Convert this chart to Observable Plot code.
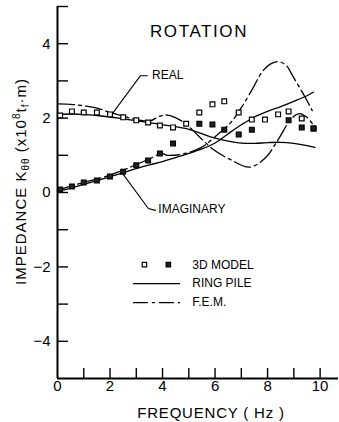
<!DOCTYPE html>
<html>
<head>
<meta charset="utf-8">
<script src="https://cdn.jsdelivr.net/npm/d3@7"></script>
<script src="https://cdn.jsdelivr.net/npm/@observablehq/plot@0.6"></script>
<style>
  html, body { margin: 0; padding: 0; background: #fff; }
  #chart svg { display: block; }
</style>
</head>
<body>
<div id="chart"></div>
<script>
// ---- data ----
// Ring pile (solid) — real part
const ringRealF = [0, 0.5, 1, 1.5, 2, 2.5, 3, 3.5, 4, 4.5, 5, 5.5, 6, 6.5, 7, 7.5, 8, 8.5, 9, 9.5, 9.8];
const ringRealV = [2.1, 2.11, 2.1, 2.07, 2.03, 1.98, 1.93, 1.88, 1.82, 1.77, 1.7, 1.58, 1.46, 1.38, 1.33, 1.32, 1.34, 1.35, 1.32, 1.26, 1.21];
// Ring pile (solid) — imaginary part
const ringImagF = [0, 0.5, 1, 1.5, 2, 2.5, 3, 3.5, 4, 4.5, 5, 5.5, 6, 6.5, 7, 7.5, 8, 8.5, 9, 9.5, 9.75];
const ringImagV = [0.03, 0.12, 0.22, 0.32, 0.42, 0.53, 0.64, 0.74, 0.83, 0.94, 1.05, 1.17, 1.33, 1.58, 1.82, 2.03, 2.18, 2.31, 2.45, 2.6, 2.7];
// F.E.M. (dash-dot) — real part
const femRealF = [0, 0.5, 1, 1.5, 2, 2.5, 3, 3.5, 3.9, 4.2, 4.8, 5.4, 6.0, 6.6, 7.3, 7.9, 8.4, 8.9, 9.2, 9.5, 9.8];
const femRealV = [2.38, 2.37, 2.33, 2.27, 2.15, 2.05, 1.96, 1.92, 2.05, 2.08, 1.89, 1.5, 1.12, 0.88, 0.68, 0.92, 1.42, 1.98, 2.12, 2.02, 1.75];
// F.E.M. (dash-dot) — imaginary part
const femImagF = [0, 0.5, 1, 1.5, 2, 2.5, 3, 3.5, 3.95, 4.2, 4.8, 5.5, 6.1, 6.6, 7.0, 7.4, 7.8, 8.1, 8.4, 8.7, 9.0, 9.4, 9.7];
const femImagV = [0.06, 0.17, 0.27, 0.36, 0.47, 0.6, 0.75, 0.9, 1.05, 1.0, 1.04, 1.22, 1.56, 1.88, 2.28, 2.75, 3.25, 3.45, 3.52, 3.42, 3.08, 2.6, 2.2];
// 3D model — real part (open squares)
const model3dRealF = [0.1, 0.55, 1.0, 1.5, 2.0, 2.5, 3.0, 3.45, 3.9, 4.4, 4.9, 5.4, 5.9, 6.35, 6.9, 7.4, 7.9, 8.4, 8.8, 9.3, 9.75];
const model3dRealV = [2.07, 2.18, 2.15, 2.15, 2.10, 2.02, 1.94, 1.88, 1.80, 1.75, 1.85, 2.15, 2.37, 2.45, 2.15, 1.96, 1.96, 2.10, 2.18, 1.99, 1.72];
// 3D model — imaginary part (filled squares)
const model3dImagF = [0.1, 0.55, 1.0, 1.5, 2.0, 2.5, 3.0, 3.45, 3.9, 4.4, 5.4, 5.9, 6.35, 6.9, 7.4, 8.8, 9.3, 9.75];
const model3dImagV = [0.08, 0.16, 0.27, 0.32, 0.43, 0.56, 0.73, 0.86, 1.05, 1.32, 1.85, 1.83, 1.69, 1.56, 1.69, 1.94, 1.75, 1.72];

// axis ticks
const xTickValues = [1, 2, 3, 4, 5, 6, 7, 8, 9, 10];
const xTickLabels = [0, 2, 4, 6, 8, 10];
const yTickValues = [-4, -3, -2, -1, 0, 1, 2, 3, 4, 5];
const yTickLabels = [-4, -2, 0, 2, 4];

// annotation labels with leader lines
const annotations = [
  {label: "REAL", f: 3.6, v: 3.16},
  {label: "IMAGINARY", f: 3.84, v: -0.46}
];
const leaderReal = [{f: 3.42, v: 3.14}, {f: 3.16, v: 3.14}, {f: 2.09, v: 2.12}];
const leaderImag = [{f: 3.73, v: -0.48}, {f: 3.46, v: -0.43}, {f: 2.51, v: 0.48}];

const zip = (F, V) => F.map((f, i) => ({f, v: V[i]}));
const ringReal = zip(ringRealF, ringRealV);
const ringImag = zip(ringImagF, ringImagV);
const femReal = zip(femRealF, femRealV);
const femImag = zip(femImagF, femImagV);
const m3dReal = zip(model3dRealF, model3dRealV);
const m3dImag = zip(model3dImagF, model3dImagV);

const DASHDOT = "17,4,3,4";
const FONT = "'Liberation Sans', Arial, Helvetica, sans-serif";
// inward tick length: 10px expressed in y units (372px for 10 units)
const X_TICK_LEN = 10 / 37.2;

const chart = Plot.plot({
  width: 339,
  height: 422,
  marginLeft: 57,
  marginRight: 1,
  marginTop: 6,
  marginBottom: 44,
  x: {domain: [0, 10.7], axis: null},
  y: {domain: [-5, 5], axis: null},
  style: {fontFamily: FONT, background: "white", color: "black", overflow: "visible"},
  marks: [
    // axis lines
    Plot.ruleX([0], {y1: -5, y2: 5, stroke: "black", strokeWidth: 2}),
    Plot.ruleY([-5], {x1: 0, x2: 10.7, stroke: "black", strokeWidth: 2}),
    // inward ticks
    Plot.ruleY(yTickValues, {y: d => d, x1: 0, x2: 0, insetRight: -11, stroke: "black", strokeWidth: 1.4}),
    Plot.ruleX(xTickValues, {x: d => d, y1: -5, y2: -5 + X_TICK_LEN, stroke: "black", strokeWidth: 1.4}),
    // tick labels
    Plot.axisX({ticks: xTickLabels, anchor: "bottom", tickSize: 0, tickPadding: 2, fontSize: 15, label: null}),
    Plot.axisY({ticks: yTickLabels, anchor: "left", tickSize: 0, tickPadding: 7, fontSize: 15, label: null}),
    // curves
    Plot.line(ringReal, {x: "f", y: "v", curve: "catmull-rom", stroke: "black", strokeWidth: 1.3}),
    Plot.line(ringImag, {x: "f", y: "v", curve: "catmull-rom", stroke: "black", strokeWidth: 1.3}),
    Plot.line(femReal, {x: "f", y: "v", curve: "catmull-rom", stroke: "black", strokeWidth: 1.3, strokeDasharray: DASHDOT}),
    Plot.line(femImag, {x: "f", y: "v", curve: "catmull-rom", stroke: "black", strokeWidth: 1.3, strokeDasharray: DASHDOT}),
    // 3D model points
    Plot.dot(m3dReal, {x: "f", y: "v", symbol: "square", r: 2.7, fill: "white", stroke: "black", strokeWidth: 1.2}),
    Plot.dot(m3dImag, {x: "f", y: "v", symbol: "square", r: 2.7, fill: "#222", stroke: "black", strokeWidth: 1.2}),
    // leader lines + labels
    Plot.line(leaderReal, {x: "f", y: "v", stroke: "black", strokeWidth: 1.1}),
    Plot.line(leaderImag, {x: "f", y: "v", stroke: "black", strokeWidth: 1.1}),
    Plot.text(annotations, {x: "f", y: "v", text: "label", textAnchor: "start", fontSize: 12}),
    // title inside the frame
    Plot.text(["ROTATION"], {frameAnchor: "top", lineAnchor: "middle", textAnchor: "middle", dx: 1, dy: 25, fontSize: 17}),
    // legend
    Plot.dot([{f: 3.31, v: -1.94}], {x: "f", y: "v", symbol: "square", r: 2.5, fill: "white", stroke: "black", strokeWidth: 1.2}),
    Plot.dot([{f: 4.22, v: -1.94}], {x: "f", y: "v", symbol: "square", r: 2.5, fill: "#222", stroke: "black", strokeWidth: 1.2}),
    Plot.ruleY([-2.45], {x1: 2.89, x2: 4.68, stroke: "black", strokeWidth: 1.3}),
    Plot.ruleY([-2.96], {x1: 2.89, x2: 4.68, stroke: "black", strokeWidth: 1.3, strokeDasharray: "15,4,3,4"}),
    Plot.text([
      {t: "3D MODEL", v: -1.94},
      {t: "RING PILE", v: -2.45},
      {t: "F.E.M.", v: -2.96}
    ], {x: () => 5.13, y: "v", text: "t", textAnchor: "start", fontSize: 12}),
    // axis titles
    Plot.text(["FREQUENCY ( Hz )"], {frameAnchor: "bottom", lineAnchor: "middle", textAnchor: "middle", dx: 13, dy: 35, fontSize: 15}),
    Plot.text(["IMPEDANCE_Y_TITLE"], {frameAnchor: "left", lineAnchor: "middle", textAnchor: "middle", dx: -36, dy: -11, rotate: -90, fontSize: 15})
  ]
});

// typographic touches: letter spacing and sub/superscripts in the y title
d3.select(chart).selectAll("text").each(function() {
  const el = d3.select(this);
  const t = el.text();
  if (t === "ROTATION") el.attr("letter-spacing", 1.6);
  if (t === "FREQUENCY ( Hz )") el.attr("letter-spacing", 0.8);
  if (t === "IMPEDANCE_Y_TITLE") {
    el.text(null).attr("letter-spacing", 1.0);
    el.append("tspan").text("IMPEDANCE K");
    el.append("tspan").attr("font-size", 10).attr("dy", 3).text("θθ");
    el.append("tspan").attr("dy", -3).text(" (x10");
    el.append("tspan").attr("font-size", 10).attr("dy", -6).text("8");
    el.append("tspan").attr("dy", 6).text("t");
    el.append("tspan").attr("font-size", 10).attr("dy", 3).text("f");
    el.append("tspan").attr("dy", -3).text("·m)");
  }
});

document.getElementById("chart").appendChild(chart);
</script>
</body>
</html>
